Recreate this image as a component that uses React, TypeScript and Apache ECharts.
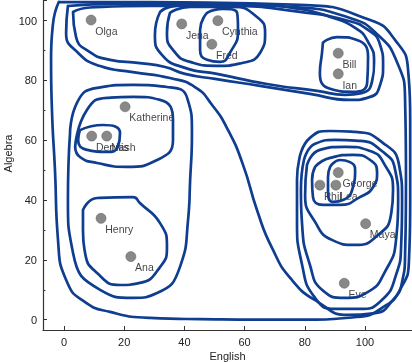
import React, { useEffect, useRef } from 'react';
import * as echarts from 'echarts';

// Students and scores
const names = ['Olga', 'Jena', 'Cynthia', 'Fred', 'Bill', 'Ian', 'Katherine', 'Dennis', 'Nash', 'Henry', 'Ana', 'George', 'Phil', 'Lea', 'Maya', 'Eve'];
const english = [9, 39.1, 51.1, 49.1, 91.1, 91.1, 20.3, 9.2, 14.2, 12.3, 22.2, 91.1, 85, 90.3, 100.2, 93.1];
const algebra = [100.2, 98.9, 100, 92.1, 89.1, 82.2, 71.2, 61.4, 61.4, 33.9, 21.1, 49.2, 45, 45, 32.1, 12.2];

// Hand-drawn cluster loops, in data units [English, Algebra]
const loopFrame = [[-1.7, 106.3], [28.6, 106.2], [78.4, 105.3], [101.7, 100.2], [110, 93.5], [114.3, 83.5], [115, 66.8], [115, 40], [114.6, 20], [111.6, 10], [106, 4.2], [97.3, 0.9], [78.4, 0], [45.2, 0.2], [28.6, 0.6], [15.3, 2.6], [7, 5.9], [1, 12.6], [-2, 26.7], [-3, 50], [-4, 70], [-4.3, 87], [-3.7, 98.6]];
const loopTopRight = [[1.3, 104.9], [0.7, 95.9], [4.7, 89.2], [12, 84.8], [22.9, 82.8], [35.2, 80.8], [43.5, 77.8], [49.2, 71.8], [54.5, 63.4], [59.5, 51.7], [64.1, 36.7], [69.1, 24], [75.7, 13.3], [84.4, 5.9], [94.4, 1.6], [103.3, 2.2], [109.3, 6.6], [112.3, 12.6], [113.3, 21.6], [113.6, 46.7], [113.3, 73.5], [110.6, 86.2], [104.3, 95.2], [95, 100.9], [75.1, 104.6], [45.2, 105.6], [18.6, 105.6]];
const loopBand = [[3, 102.9], [4, 94.5], [8.6, 89.5], [15.3, 86.9], [25.2, 85.8], [33.6, 84.5], [40.2, 82.2], [50.2, 80.5], [65.1, 78.2], [81.7, 75.5], [95, 73.5], [101.7, 74.5], [105, 78.5], [106, 85.2], [105, 91.9], [101, 96.9], [93.4, 100.2], [78.4, 102.9], [55.1, 104.9], [28.6, 104.9], [8.6, 104.4]];
const loopJenaBill = [[31.9, 102.9], [30.2, 95.2], [32.6, 88.5], [40.2, 84.2], [50.8, 82.2], [67.4, 78.8], [84.1, 76.5], [93.4, 75.2], [99, 75.8], [102.3, 79.6], [103, 86.2], [101, 92.9], [96.7, 97.6], [88.4, 101.2], [78.4, 103.9], [61.8, 105.3], [41.9, 105.3], [35.2, 104.6]];
const loopJena = [[35.2, 102.6], [41.9, 104.6], [56.1, 104.6], [64.1, 101.2], [66.8, 95.9], [65.1, 89.2], [59.5, 85.9], [50.8, 84.9], [41.9, 86.2], [36.2, 90.2], [34.2, 95.9]];
const loopCynthiaFred = [[47.5, 102.6], [52.8, 103.9], [57.5, 102.6], [57.8, 96.9], [55.1, 89.2], [51.8, 86.2], [47.5, 86.9], [45.2, 90.2], [45.2, 96.9]];
const loopBillIan = [[86, 92.6], [90.7, 94.5], [97.3, 93.5], [101, 87.9], [100.7, 79.2], [96, 76.2], [88.4, 77.2], [85, 82.5], [85.7, 89.2]];
const loopLeft = [[2, 62.4], [4.3, 72.5], [11, 77.5], [22.9, 78.5], [34.2, 77.8], [40.9, 74.2], [42.5, 62.4], [41.9, 46.7], [41.2, 33.3], [38.5, 17.6], [30.9, 8.9], [22.9, 7.3], [12, 10], [3, 22.3], [1.3, 40]];
const loopKatherine = [[3.7, 57.8], [7.6, 70.1], [14.3, 74.2], [22.9, 74.5], [31.9, 73.5], [36.2, 66.8], [36.2, 60.1], [30.9, 53.4], [20.9, 51.1], [11, 52.4], [5.3, 54.4]];
const loopDennisNash = [[5.3, 63.4], [13, 65.1], [18.6, 62.4], [17.9, 57.8], [14.3, 56.1], [7.6, 56.8], [4.7, 60.1]];
const loopHenryAna = [[6.3, 36.7], [11, 40.7], [22.9, 41], [25.2, 39], [31.9, 32.3], [34.2, 24.3], [31.9, 17.6], [25.2, 12.3], [18.6, 11.6], [11, 15.6], [7, 22.3], [6.3, 30]];
const loopRight = [[78.1, 53.4], [81.7, 60.8], [88.4, 63.1], [96.7, 62.8], [105.6, 59.4], [111.3, 51.7], [112.3, 40], [112, 25], [110.3, 15], [105.6, 6.6], [98.3, 3.6], [90, 3.6], [83.4, 7.3], [79.1, 18.3], [77.4, 33.3], [77.4, 46.7]];
const loopEve = [[79.7, 53.4], [83.4, 58.8], [90, 60.1], [98.3, 59.8], [105.6, 56.4], [110, 50.1], [111, 40], [110.3, 26.7], [106.6, 16], [101, 9.3], [93.4, 7.3], [85.7, 10], [81.7, 18.3], [79.1, 31.7], [78.7, 43.4]];
const loopMaya = [[80.7, 51.7], [85, 56.8], [93.4, 57.8], [101.7, 56.4], [106.6, 51.7], [109.3, 43.4], [108.6, 35], [104.3, 28.3], [96.7, 25], [89, 26.7], [83.4, 32.7], [80.1, 41.7]];
const loopPhilLea = [[83.4, 51.1], [88.4, 54.1], [96, 55.1], [101.7, 53.4], [104, 49.1], [102.7, 44.4], [98.3, 41], [91.7, 38.4], [86, 38.4], [82.7, 41], [82.4, 46.7]];
const loopGeorgeLea = [[88.4, 51.1], [91.7, 53.4], [95, 52.7], [96.7, 50.1], [96, 44.4], [92.7, 40], [89.4, 39.4], [87.7, 42.4], [87.7, 47.7]];

const loops = [loopFrame, loopTopRight, loopBand, loopJenaBill, loopJena, loopCynthiaFred, loopBillIan, loopLeft, loopKatherine, loopDennisNash, loopHenryAna, loopRight, loopEve, loopMaya, loopPhilLea, loopGeorgeLea];

const FONT = '"Liberation Sans", Arial, Helvetica, sans-serif';
const INK = '#0f3d8f';

export default function App() {
  const ref = useRef<HTMLDivElement>(null);
  useEffect(() => {
    if (!ref.current) return;
    const chart = echarts.init(ref.current, undefined, { renderer: 'svg' });
    const loopSeries = loops.map((pts) => ({
      type: 'line',
      data: [...pts, pts[0]],
      smooth: 0.55,
      symbol: 'none',
      silent: true,
      z: 4,
      lineStyle: { color: INK, width: 2.7, cap: 'round', join: 'round' },
    }));
    chart.setOption({
      animation: false,
      grid: { left: 43, right: 0, top: 0, bottom: 32, containLabel: false, outerBoundsMode: 'none' },
      xAxis: {
        type: 'value',
        min: -6.98,
        max: 115.6,
        splitLine: { show: false },
        axisLine: { show: true, onZero: false, lineStyle: { color: '#333', width: 1.2 } },
        axisTick: { show: true, inside: true, length: 4, lineStyle: { color: '#333' } },
        axisLabel: { color: '#222', fontSize: 11, fontFamily: FONT, margin: 6, showMinLabel: false, showMaxLabel: false },
        name: 'English',
        nameLocation: 'middle',
        nameGap: 20,
        nameMoveOverlap: false,
        nameTextStyle: { color: '#222', fontSize: 11, fontFamily: FONT },
      },
      yAxis: {
        type: 'value',
        min: -3.44,
        max: 106.9,
        splitLine: { show: false },
        axisLine: { show: true, onZero: false, lineStyle: { color: '#333', width: 1.2 } },
        axisTick: { show: true, inside: true, length: 4, lineStyle: { color: '#333' } },
        minorTick: { show: true, splitNumber: 2, length: 2.5, lineStyle: { color: '#333' } },
        axisLabel: { color: '#222', fontSize: 11, fontFamily: FONT, margin: 6, showMinLabel: false, showMaxLabel: false },
        name: 'Algebra',
        nameLocation: 'middle',
        nameGap: 30,
        nameMoveOverlap: false,
        nameTextStyle: { color: '#222', fontSize: 11, fontFamily: FONT, padding: [0, 0, 0, 23] },
      },
      series: [
        {
          type: 'scatter',
          z: 3,
          symbolSize: 10,
          itemStyle: { color: '#6a6a6a', borderColor: '#555', borderWidth: 0.6 },
          data: names.map((n, i) => [english[i], algebra[i], n]),
          label: {
            show: true,
            position: [9.5, 16],
            align: 'left',
            verticalAlign: 'middle',
            formatter: (p: any) => p.data[2],
            color: '#111',
            fontSize: 10.5,
            fontFamily: FONT,
          },
        },
        ...loopSeries,
      ],
    });
    return () => chart.dispose();
  }, []);
  return <div ref={ref} style={{ position: 'fixed', left: 0, top: 0, width: 412, height: 362 }} />;
}
